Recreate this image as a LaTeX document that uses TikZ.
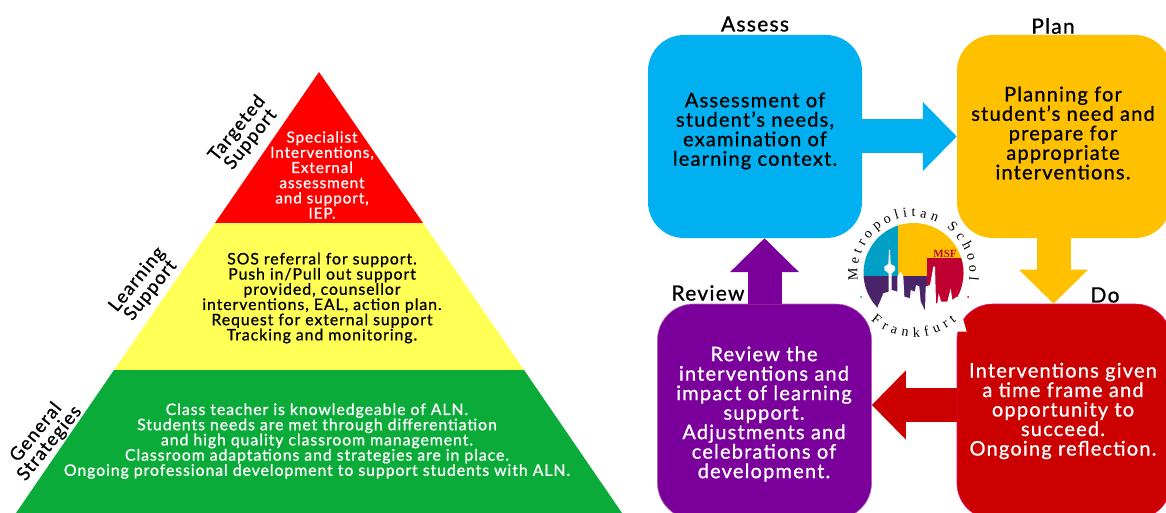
\documentclass[tikz,border=0pt]{standalone}
\usepackage{fontspec}
\setmainfont{Lato}[LetterSpace=6.0,FakeBold=0.9]
\newfontfamily\logofont{Liberation Serif}
\usetikzlibrary{arrows.meta}
\usetikzlibrary{decorations.text}
\definecolor{assesscol}{HTML}{00B0F0}
\definecolor{plancol}{HTML}{FFC000}
\definecolor{docol}{HTML}{CC0000}
\definecolor{reviewcol}{HTML}{7B009B}
\definecolor{topcol}{HTML}{FF0000}
\definecolor{midcol}{HTML}{FFFF55}
\definecolor{lowcol}{HTML}{0BAB39}
\definecolor{logoblue}{HTML}{00A0C6}
\definecolor{logopurple}{HTML}{4A2468}
\definecolor{logored}{HTML}{BF0030}
\begin{document}
\begin{tikzpicture}[x=1pt, y=-1pt,
    stagebox/.style = {rounded corners=36pt, minimum width=214pt, align=center, inner sep=0pt},
    stagetext/.style = {align=center, font=\fontsize{20}{19.5}\selectfont},
    stagehead/.style = {font=\fontsize{21}{22}\selectfont},
    tiertext/.style = {align=center, font=\fontsize{15.8}{15.2}\selectfont},
    tierlabel/.style = {align=center, rotate=51, font=\fontsize{18.5}{17.5}\selectfont},
    blockarrow/.style = {line width=34pt, -{Triangle[length=34pt,width=67pt]}}]
          \clip (0,0) rectangle (1166,513);
          \fill[topcol] (319,72) -- (423,223) -- (215,223) -- cycle;
          \fill[midcol] (215,223) -- (423,223) -- (524,370) -- (114,370) -- cycle;
          \fill[lowcol] (114,370) -- (524,370) -- (622,513) -- (16,513) -- cycle;
          \node[tiertext, text=white, font=\fontsize{15.3}{15.2}\selectfont] (toptext) at (322,175) {Specialist\\Interventions,\\External\\assessment\\and support,\\IEP.};
          \node[tiertext] (midtext) at (322,298) {SOS referral for support.\\Push in/Pull out support\\provided, counsellor\\interventions, EAL, action plan.\\Request for external support\\Tracking and monitoring.};
          \node[tiertext, text=white] (lowtext) at (317,441) {Class teacher is knowledgeable of ALN.\\Students needs are met through differentiation\\and high quality classroom management.\\Classroom adaptations and strategies are in place.\\Ongoing professional development to support students with ALN.};
          \node[tierlabel] (toplabel) at (244,134) {Targeted\\Support};
          \node[tierlabel] (midlabel) at (144,285) {Learning\\Support};
          \node[tierlabel] (lowlabel) at (43,438) {General\\Strategies};
          \node[stagebox, fill=assesscol, minimum height=203pt] (assess) at (755,136.5) {};
          \node[stagebox, fill=plancol, minimum height=203pt] (plan) at (1064,136.5) {};
          \node[stagebox, fill=docol, minimum height=215pt, draw=magenta!70!red, line width=.6pt] (dobox) at (1064,411.5) {};
          \node[stagebox, fill=reviewcol, minimum height=215pt, draw=violet!60!white, line width=.6pt] (review) at (764.5,411.5) {};
          \draw[blockarrow, assesscol] (assess) -- (plan);
          \draw[blockarrow, plancol] ([xshift=-10.5pt]plan.south) -- ([xshift=-10.5pt]dobox.north);
          \draw[blockarrow, docol] ([yshift=6.5pt]dobox.west) -- ([yshift=6.5pt]review.east);
          \draw[blockarrow, reviewcol] (review.north) -- ([xshift=9.5pt]assess.south);
          \node[stagetext] (assesstext) at (755,131) {Assessment of\\student's needs,\\examination of\\learning context.};
          \node[stagetext] (plantext) at (1063,133) {Planning for\\student's need and\\prepare for\\appropriate\\interventions.};
          \node[stagetext, text=white] (dotext) at (1063,411) {Interventions given\\a time frame and\\opportunity to\\succeed.\\Ongoing reflection.};
          \node[stagetext, text=white] (reviewtext) at (764,414) {Review the\\interventions and\\impact of learning\\support.\\Adjustments and\\celebrations of\\development.};
          \node[stagehead] (assesshead) at (755,24) {Assess};
          \node[stagehead] (planhead) at (1053,26) {Plan};
          \node[stagehead] (dohead) at (1105,295) {Do};
          \node[stagehead] (reviewhead) at (708,293) {Review};
          \begin{scope}
            \clip (913.5,273) circle[radius=50pt];
            \fill[plancol] (898,223) rectangle (964,276);
            \fill[logoblue] (863,223) rectangle (898,276);
            \fill[logopurple] (863,276) rectangle (927,323);
            \fill[logored] (927,258) rectangle (964,323);
          \end{scope}
          \begin{scope}[shift={(860,240)}, x=.3333pt, y=-.3333pt]
            \fill[white] (30,275) -- (55,195) -- (60,185) -- (70,160) -- (86,155) -- (86,100) -- (73,90) -- (73,80) -- (85,72) -- (87,30) -- (90,30) -- (92,72) -- (105,80) -- (105,90) -- (95,100) -- (95,150) -- (112,155) -- (112,110) -- (122,95) -- (130,110) -- (133,170) -- (150,175) -- (152,150) -- (165,155) -- (168,135) -- (178,140) -- (182,185) -- (195,212) -- (197,140) -- (210,135) -- (220,80) -- (225,80) -- (228,190) -- (232,190) -- (236,160) -- (243,185) -- (262,185) -- (272,145) -- (277,180) -- (290,170) -- (320,275) -- cycle;
          \end{scope}
          \node[logored, font=\logofont\bfseries\fontsize{11}{11}\selectfont, inner sep=0pt] (msf) at (945,254) {MSF};
          \path[decorate, decoration={text along path, text align=fit to path, text={|\logofont\fontsize{14}{14}\selectfont|Metropolitan School}}] (858,280.8) arc[start angle=188, end angle=-8, radius=56pt];
          \path[decorate, decoration={text along path, text align=fit to path, text={|\logofont\fontsize{14}{14}\selectfont|Frankfurt}}] (871,320.6) arc[start angle=228, end angle=312, radius=64pt];
          \node[circle, fill=logoblue, inner sep=0pt, minimum size=2pt] (bluedot) at (861,297) {};
          \node[circle, fill=logored, inner sep=0pt, minimum size=2pt] (reddot) at (968,297) {};
        \end{tikzpicture}
\end{document}
